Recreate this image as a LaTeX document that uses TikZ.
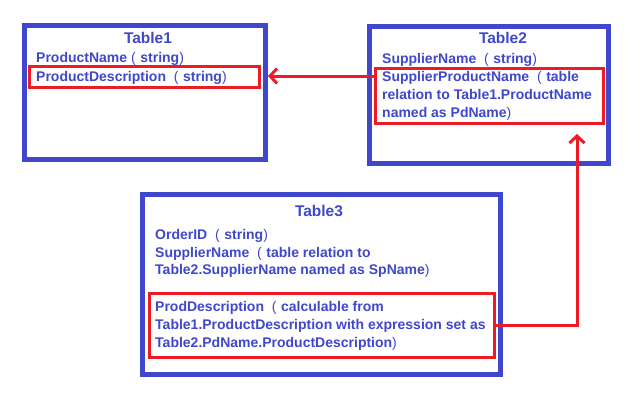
\documentclass[tikz,border=0pt]{standalone}
\usepackage{fontspec}
\setmainfont{Liberation Sans}
\usetikzlibrary{arrows.meta}
\definecolor{tblue}{RGB}{63,72,204}
\definecolor{tred}{RGB}{237,28,36}
\newcommand{\lp}{\hspace{4pt}{\mdseries(}\hspace{4.5pt}}
\newcommand{\rp}{{\mdseries)}}
\tikzset{
  tbox/.style={draw=tblue, line width=5pt, rectangle, inner sep=0pt, fill=white},
  rbox/.style={draw=tred, line width=3pt, rectangle, inner sep=0pt},
  ttitle/.style={anchor=base, inner sep=0pt, text=tblue, font=\bfseries\fontsize{15.5}{18}\selectfont},
  tline/.style={anchor=base west, inner sep=0pt, text=tblue, font=\bfseries\fontsize{14}{18}\selectfont},
  rel/.style={draw=tred, line width=3pt, -{Straight Barb[length=7pt,width=15pt]}}
}
\begin{document}
\begin{tikzpicture}[x=1pt,y=-1pt]
\useasboundingbox (0,0) rectangle (640,400);
% boxes
\node[tbox, minimum width=241pt, minimum height=134pt] (t1) at (145,92.5) {};
\node[rbox, minimum width=230pt, minimum height=21pt] (t1r) at (144.5,77) {};
\node[tbox, minimum width=239pt, minimum height=137pt] (t2) at (489,95) {};
\node[rbox, minimum width=228pt, minimum height=55pt] (t2r) at (489.5,96) {};
\node[tbox, minimum width=358pt, minimum height=180pt] (t3) at (321.5,284.5) {};
\node[rbox, minimum width=345pt, minimum height=64pt] (t3r) at (322,325.5) {};
% Table1 text
\node[ttitle] (t1title) at (148,43) {Table1};
\node[tline] (t1a) at (36,62) {ProductName\lp{}string\rp};
\node[tline] (t1b) at (36,81) {ProductDescription \lp{}string\rp};
% Table2 text
\node[ttitle] (t2title) at (503,43) {Table2};
\node[tline] (t2a) at (382,63) {SupplierName \lp{}string\rp};
\node[tline] (t2b) at (382,81) {SupplierProductName \lp{}table};
\node[tline] (t2c) at (382,99) {relation to Table1.ProductName};
\node[tline] (t2d) at (382,117) {named as PdName\rp};
% Table3 text
\node[ttitle] (t3title) at (319,216) {Table3};
\node[tline] (t3a) at (155,239) {OrderID \lp{}string\rp};
\node[tline] (t3b) at (155,257) {SupplierName \lp{}table relation to};
\node[tline] (t3c) at (155,274) {Table2.SupplierName named as SpName\rp};
\node[tline] (t3d) at (155,311) {ProdDescription \lp{}calculable from};
\node[tline] (t3e) at (155,329) {Table1.ProductDescription with expression set as};
\node[tline] (t3f) at (155,347) {Table2.PdName.ProductDescription\rp};
% connectors
\coordinate (a1) at (268,76);
\coordinate (a2) at (577,134);
\draw[rel] (t2r.west |- a1) -- (a1);
\draw[rel] (t3r.east) -| (a2);
\end{tikzpicture}
\end{document}
